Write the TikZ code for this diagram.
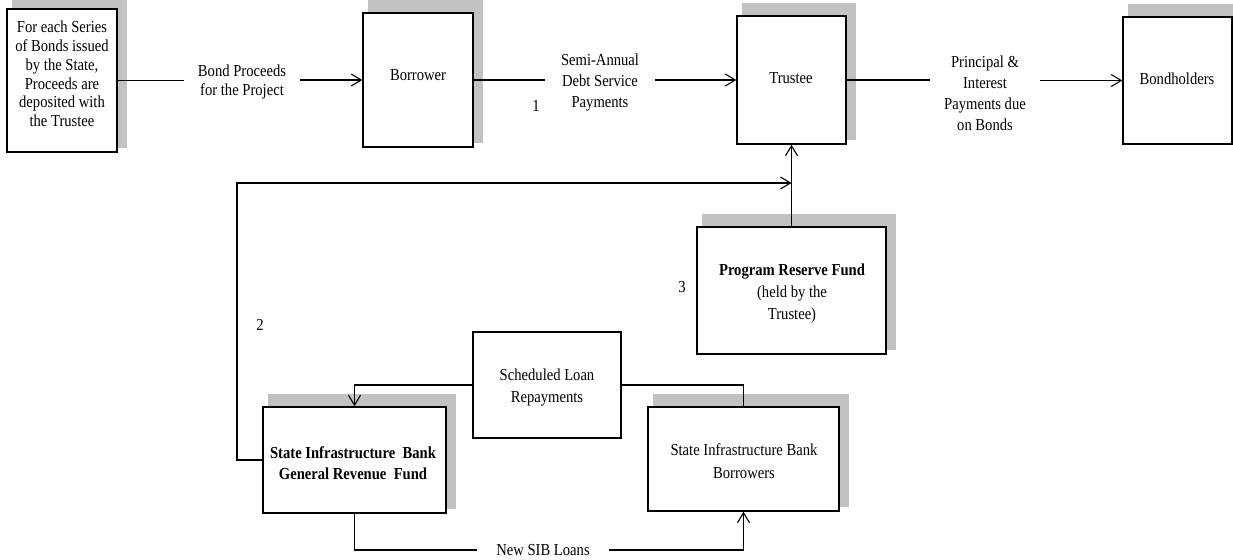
\documentclass[tikz,border=0pt]{standalone}
\usepackage{fontspec}
\setmainfont[FakeStretch=0.87]{Liberation Serif}
\usetikzlibrary{arrows.meta,fit}
\tikzset{
  x=1pt, y=-1pt,
  boxst/.style={draw=black, line width=1.4pt, fill=white, inner sep=0pt},
  shadowst/.style={fill=black!24},
  txt/.style={align=center, inner sep=0pt, font=\fontsize{16.8}{21}\selectfont},
  lbl/.style={align=center, inner ysep=0pt, inner xsep=14pt, font=\fontsize{16.8}{21}\selectfont},
  conn/.style={line width=1.1pt},
  arr/.style={line width=1.1pt, -{Straight Barb[length=10pt,width=12pt]}}
}
\newcommand{\shadowbox}[5]{%
  \fill[shadowst] (#2+5,#3-13) rectangle (#4+10,#5-4);
  \node[boxst, fit={(#2,#3) (#4,#5)}] (#1) {};
}
\begin{document}
\begin{tikzpicture}
\path[use as bounding box] (0,0) rectangle (1233,559);

% boxes
\shadowbox{A}{7}{9}{117}{152}
\shadowbox{Bor}{363}{13}{473}{147}
\shadowbox{Tru}{737}{16}{846}{144}
\shadowbox{Bh}{1123}{17}{1232}{144}
\shadowbox{PRF}{697}{227}{886}{354}
\shadowbox{GRF}{263}{407}{446}{513}
\shadowbox{SIBB}{648}{407}{839}{511}
\node[boxst, fit={(473,332) (621,438)}] (SL) {};

% box texts
\node[txt, font=\fontsize{16.8}{18.8}\selectfont] (Atxt) at (62,74)
  {For each Series\\of Bonds issued\\by the State,\\Proceeds are\\deposited with\\the Trustee};
\node[txt] (Bortxt) at (418,75) {Borrower};
\node[txt] (Trutxt) at (791,78) {Trustee};
\node[txt] (Bhtxt) at (1177,79) {Bondholders};
\node[txt, font=\fontsize{16.8}{22}\selectfont] (PRFtxt) at (792,293)
  {\textbf{Program Reserve Fund}\\(held by the\\Trustee)};
\node[txt] (GRFtxt) at (353,463)
  {\textbf{State Infrastructure\ \ Bank}\\\textbf{General Revenue\ \ Fund}};
\node[txt, font=\fontsize{16.8}{23}\selectfont] (SIBBtxt) at (744,461)
  {State Infrastructure Bank\\Borrowers};
\node[txt, font=\fontsize{16.8}{22}\selectfont] (SLtxt) at (547,387)
  {Scheduled Loan\\Repayments};

% connector labels
\node[lbl, font=\fontsize{16.8}{19}\selectfont] (L1) at (242,82) {Bond Proceeds\\for the Project};
\node[lbl, inner xsep=16pt] (L2) at (600,82) {Semi-Annual\\Debt Service\\Payments};
\node[lbl] (L3) at (985,93) {Principal \&\\Interest\\Payments due\\on Bonds};
\node[lbl, inner xsep=19pt] (L4) at (543,550) {New SIB Loans};

% numbers
\node[txt] (n1) at (536,106) {1};
\node[txt] (n2) at (260,325) {2};
\node[txt] (n3) at (682,287) {3};

% connectors top row
\draw[conn] (A.east) -- (A.east -| L1.west);
\draw[arr] (L1.east |- Bor.west) -- (Bor.west);
\draw[conn] (Bor.east) -- (Bor.east -| L2.west);
\draw[arr] (L2.east |- Tru.west) -- (Tru.west);
\draw[conn] (Tru.east) -- (Tru.east -| L3.west);
\draw[arr] (L3.east |- Bh.west) -- (Bh.west);

% reserve fund and loop
\coordinate (junc) at (Tru.south |- 0,183);
\coordinate (lc) at (237,183);
\draw[arr] (PRF.north) -- (Tru.south);
\draw[arr] (GRF.west) -| (lc) -- (junc);

% scheduled loan repayments
\draw[arr] (SL.west) -| (GRF.north);
\draw[conn] (SL.east) -| (SIBB.north);

% new SIB loans
\draw[conn] (GRF.south) |- (L4.west);
\draw[arr] (L4.east) -| (SIBB.south);
\end{tikzpicture}
\end{document}
